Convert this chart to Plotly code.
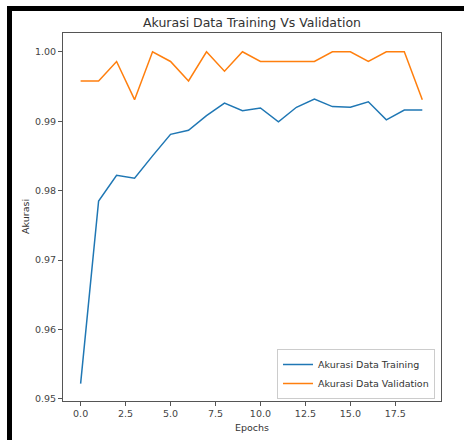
import plotly.graph_objects as go

epochs = list(range(20))
train_acc = [0.9522, 0.9785, 0.9822, 0.9818, 0.9850, 0.9881, 0.9887, 0.9908, 0.9926, 0.9915,
             0.9919, 0.9899, 0.9920, 0.9932, 0.9921, 0.9920, 0.9928, 0.9902, 0.9916, 0.9916]
val_acc = [0.9958, 0.9958, 0.9986, 0.9931, 1.0000, 0.9986, 0.9958, 1.0000, 0.9972, 1.0000,
           0.9986, 0.9986, 0.9986, 0.9986, 1.0000, 1.0000, 0.9986, 1.0000, 1.0000, 0.9931]
x_ticks = [0, 2.5, 5, 7.5, 10, 12.5, 15, 17.5]
y_ticks = [0.95, 0.96, 0.97, 0.98, 0.99, 1.00]

W, H = 464, 440
L, R, T, B = 63, 23, 33, 39
pw, ph = W - L - R, H - T - B

def px(xp):
    return (xp - L) / pw

def py(yp):
    return (H - B - yp) / ph

font = "DejaVu Sans"
fig = go.Figure()
fig.add_trace(go.Scatter(x=epochs, y=train_acc, mode="lines", name="Akurasi Data Training",
                         line=dict(color="#1f77b4", width=1.5)))
fig.add_trace(go.Scatter(x=epochs, y=val_acc, mode="lines", name="Akurasi Data Validation",
                         line=dict(color="#ff7f0e", width=1.5)))

axis_common = dict(showgrid=False, zeroline=False, showline=True, linecolor="#555", linewidth=1,
                   mirror=True, ticks="outside", ticklen=4, tickcolor="#555", tickwidth=1,
                   tickfont=dict(family=font, size=9.5, color="#444"))
fig.update_xaxes(range=[-0.98, 20.04], tickvals=x_ticks, ticktext=[f"{v:.1f}" for v in x_ticks],
                 **axis_common)
fig.update_yaxes(range=[0.9497, 1.0027], tickvals=y_ticks, ticktext=[f"{v:.2f}" for v in y_ticks],
                 **axis_common)

shapes = [
    dict(type="rect", xref="paper", yref="paper", x0=px(7), x1=px(12), y0=py(440), y1=py(6),
         fillcolor="black", line=dict(width=0), layer="above"),
    dict(type="rect", xref="paper", yref="paper", x0=px(7), x1=px(464), y0=py(11), y1=py(6),
         fillcolor="black", line=dict(width=0), layer="above"),
]

annotations = [
    dict(text="Akurasi Data Training Vs Validation", xref="paper", yref="paper", x=px(252), y=py(23),
         showarrow=False, font=dict(family=font, size=12.5, color="#333"), xanchor="center", yanchor="middle"),
    dict(text="Epochs", xref="paper", yref="paper", x=px(252), y=py(427),
         showarrow=False, font=dict(family=font, size=9.5, color="#333"), xanchor="center", yanchor="middle"),
    dict(text="Akurasi", xref="paper", yref="paper", x=px(25), y=py(217), textangle=-90,
         showarrow=False, font=dict(family=font, size=9.5, color="#333"), xanchor="center", yanchor="middle"),
]

fig.update_layout(
    width=W, height=H, margin=dict(l=L, r=R, t=T, b=B),
    paper_bgcolor="white", plot_bgcolor="white",
    shapes=shapes, annotations=annotations,
    legend=dict(x=px(435), y=py(399), xanchor="right", yanchor="bottom",
                bgcolor="rgba(255,255,255,0.8)", bordercolor="#ccc", borderwidth=1,
                font=dict(family=font, size=9.5, color="#333"), tracegroupgap=0,
                itemwidth=30),
    showlegend=True,
)
fig.write_html("out.html")
